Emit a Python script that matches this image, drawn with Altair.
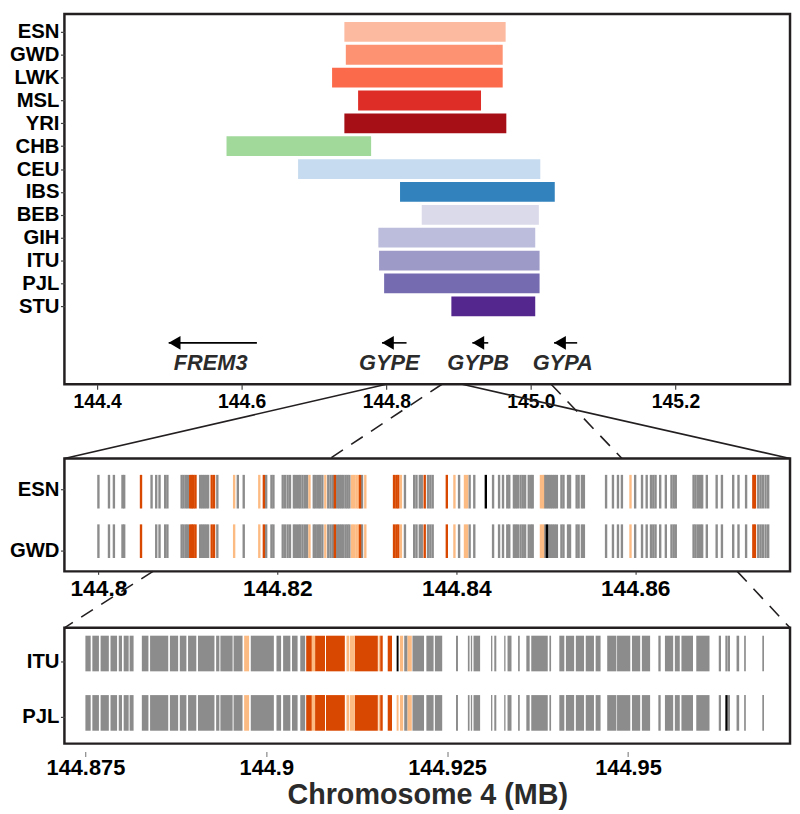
import altair as alt
import pandas as pd

# ---------------- data ----------------
POPS = ["ESN", "GWD", "LWK", "MSL", "YRI", "CHB", "CEU", "IBS", "BEB", "GIH", "ITU", "PJL", "STU"]
POP_START = [144.742, 144.744, 144.725, 144.761, 144.742, 144.579, 144.678, 144.819, 144.849, 144.789, 144.790, 144.797, 144.890]
POP_END = [144.965, 144.961, 144.961, 144.931, 144.966, 144.779, 145.013, 145.033, 145.011, 145.006, 145.012, 145.012, 145.006]
POP_COLORS = ["#fcbba1", "#fc9272", "#fb6a4a", "#de2d26", "#a50f15", "#a1d99b", "#c6dbef",
              "#3182bd", "#dadaeb", "#bcbddc", "#9e9ac8", "#756bb1", "#54278f"]

GENES = ["FREM3", "GYPE", "GYPB", "GYPA"]
GENE_TIP = [144.499, 144.794, 144.919, 145.032]
GENE_TAIL = [144.621, 144.828, 144.941, 145.064]
GENE_LABEL_X = [144.557, 144.804, 144.927, 145.044]

TOP_TICKS = [144.4, 144.6, 144.8, 145.0, 145.2]
MID_TICKS = [144.80, 144.82, 144.84, 144.86]
BOT_TICKS = [144.875, 144.900, 144.925, 144.950]

TOP_DOMAIN = [144.3548, 145.3584]
MID_DOMAIN = [144.7962, 144.8773]
BOT_DOMAIN = [144.8721, 144.9724]

MID_ROWS = ["ESN", "GWD"]
BOT_ROWS = ["ITU", "PJL"]

# variant positions in the 144.80-144.875 Mb window (ESN / GWD)
MID_POS = [
    144.80000, 144.80118, 144.80173, 144.80269, 144.80288, 144.80476, 144.80594, 144.80646, 144.80683, 144.80746,
    144.80771, 144.80930, 144.80952, 144.80978, 144.81000, 144.81026, 144.81045, 144.81063, 144.81085, 144.81137,
    144.81159, 144.81181, 144.81203, 144.81226, 144.81266, 144.81292, 144.81329, 144.81517, 144.81558, 144.81624,
    144.81798, 144.81849, 144.81875, 144.81934, 144.81956, 144.82060, 144.82086, 144.82115, 144.82141, 144.82185,
    144.82207, 144.82233, 144.82255, 144.82281, 144.82307, 144.82333, 144.82359, 144.82407, 144.82429, 144.82455,
    144.82477, 144.82503, 144.82536, 144.82569, 144.82595, 144.82621, 144.82643, 144.82669, 144.82691, 144.82713,
    144.82735, 144.82761, 144.82783, 144.82805, 144.82835, 144.82857, 144.82883, 144.82905, 144.82924, 144.82946,
    144.82983, 144.83304, 144.83330, 144.83352, 144.83381, 144.83426, 144.83529, 144.83555, 144.83592, 144.83614,
    144.83647, 144.83684, 144.83710, 144.83736, 144.83894, 144.83979, 144.84031, 144.84097, 144.84120, 144.84149,
    144.84201, 144.84330, 144.84411, 144.84478, 144.84522, 144.84570, 144.84592, 144.84644, 144.84666, 144.84688,
    144.84718, 144.84743, 144.84769, 144.84810, 144.84836, 144.84854, 144.84946, 144.84969, 144.84991, 144.85013,
    144.85035, 144.85057, 144.85079, 144.85101, 144.85124, 144.85175, 144.85198, 144.85249, 144.85271, 144.85345,
    144.85367, 144.85404, 144.85426, 144.85674, 144.85751, 144.85807, 144.85851, 144.85947, 144.85999, 144.86076,
    144.86128, 144.86176, 144.86202, 144.86227, 144.86279, 144.86342, 144.86405, 144.86430, 144.86453, 144.86652,
    144.86674, 144.86700, 144.86726, 144.86748, 144.86800, 144.86910, 144.86969, 144.87095, 144.87154, 144.87239,
    144.87320, 144.87338, 144.87375, 144.87401, 144.87427, 144.87457, 144.87486,
]
# g = gray, o = dark orange, p = light orange, k = black, - = absent
ESN_CODE = "".join([
    "gggggogggg", "gggggoooog", "ggggoogpgg", "pogggggggg", "ggggggpggg",
    "ggpgggoggg", "ggggppppog", "pooopggggg", "ogggopgppg", "gkgggggggg",
    "ggggggppgg", "gggggggggg", "gggggggpgg", "gggggggggg", "gggggggggg", "ooggggg",
])
GWD_CODE = "".join([
    "gggggo-ggg", "gggggoooog", "ggggoogp-g", "pogggggggg", "ggggggpggg",
    "ggpgggoggg", "ggggppppog", "pooopggggg", "ogggopgppg", "g-gggggggg",
    "ggggggppgk", "gggggggggg", "gggggggpgg", "gggggggggg", "gggggggggg", "ooggggg",
])

# variant blocks in the 144.875-144.97 Mb window (ITU / PJL)
BOT_START = [
    144.87500, 144.87596, 144.87710, 144.87847, 144.87961, 144.88029, 144.88111, 144.88280, 144.88394, 144.88668,
    144.88805, 144.88919, 144.89056, 144.89307, 144.89366, 144.89548, 144.89694, 144.89786, 144.90141, 144.90233,
    144.90356, 144.90470, 144.90552, 144.90630, 144.90675, 144.90826, 144.91109, 144.91154, 144.91223, 144.91551,
    144.91574, 144.91679, 144.91802, 144.91848, 144.91907, 144.91953, 144.92021, 144.92213, 144.92331, 144.92623,
    144.92787, 144.92828, 144.92865, 144.93107, 144.93152, 144.93289, 144.93335, 144.93481, 144.93595, 144.93663,
    144.93914, 144.94051, 144.94142, 144.94279, 144.94416, 144.94553, 144.94713, 144.94849, 144.95055, 144.95192,
    144.95420, 144.95511, 144.95648, 144.95739, 144.95944, 144.96255, 144.96346, 144.96382, 144.96501, 144.96606,
    144.96857,
]
BOT_END = [
    144.87573, 144.87687, 144.87824, 144.87938, 144.88006, 144.88098, 144.88166, 144.88371, 144.88645, 144.88782,
    144.88896, 144.89033, 144.89284, 144.89352, 144.89535, 144.89672, 144.89763, 144.90105, 144.90205, 144.90333,
    144.90433, 144.90538, 144.90630, 144.90675, 144.90812, 144.91086, 144.91145, 144.91223, 144.91542, 144.91574,
    144.91610, 144.91738, 144.91829, 144.91893, 144.91953, 144.92012, 144.92181, 144.92313, 144.92432, 144.92650,
    144.92810, 144.92846, 144.92956, 144.93125, 144.93180, 144.93307, 144.93390, 144.93504, 144.93641, 144.93891,
    144.93937, 144.94120, 144.94256, 144.94393, 144.94530, 144.94621, 144.94840, 144.95032, 144.95169, 144.95306,
    144.95452, 144.95625, 144.95716, 144.95899, 144.96127, 144.96286, 144.96378, 144.96410, 144.96537, 144.96629,
    144.96880,
]
ITU_CODE = "g" * 16 + "p" + "ggggg" + "opoopp" + "opoo" + "k" + "p" + "g" + "p" + "g" * 35
PJL_CODE = "g" * 16 + "p" + "ggggg" + "opoopp" + "opoo" + "p" + "p" + "g" + "p" + "g" * 30 + "k" + "g" * 4

CODE_COLORS = {"g": "#8c8c8c", "o": "#d94801", "p": "#fdbb84", "k": "#000000"}

# zoom connector lines (x positions on the scale of the panel above)
TOP_LINK_FROM = [144.800, 144.905, 144.877, 145.028]
TOP_LINK_TO = [144.3548, 145.3584, 144.722, 145.126]
TOP_LINK_DASHED = [False, False, True, True]
MID_LINK_FROM = [144.8061, 144.8714]
MID_LINK_TO = [144.7962, 144.8773]

assert len(ESN_CODE) == len(MID_POS) == len(GWD_CODE)
assert len(ITU_CODE) == len(BOT_START) == len(BOT_END) == len(PJL_CODE)

# ---------------- style ----------------
FONT = "Liberation Sans"
W = 733
FRAME = "#231f20"

def qscale(domain, reverse=False):
    if reverse:
        return alt.Scale(domain=domain, nice=False, zero=False, reverse=True)
    return alt.Scale(domain=domain, nice=False, zero=False)

def yaxis(values, expr):
    return alt.Axis(values=values, labelExpr=expr, title=None, labelFontSize=20.5, tickSize=4,
                    labelPadding=1.5, labelOverlap=False, labelBound=False, labelFlush=False)

# ---------------- top panel ----------------
top_df = pd.DataFrame({"pop": POPS, "start": POP_START, "end": POP_END, "color": POP_COLORS})
top_df["row"] = range(len(POPS))
top_df["y0"] = top_df["row"] - 0.433
top_df["y1"] = top_df["row"] + 0.433

TOP_Y = qscale([-0.779, 15.411], reverse=True)
TOP_X = qscale(TOP_DOMAIN)
pop_expr = "[" + ",".join("'%s'" % p for p in POPS) + "][datum.value]"
TOP_XAXIS = alt.Axis(values=TOP_TICKS, labelExpr="format(datum.value, '.1f')", title=None,
                     labelFontSize=19.5, tickSize=5, labelPadding=3, labelOverlap=False)
TOP_YAXIS = yaxis(list(range(len(POPS))), pop_expr)

bars = alt.Chart(top_df).mark_bar().encode(
    x=alt.X("start:Q", scale=TOP_X, axis=TOP_XAXIS),
    x2="end:Q",
    y=alt.Y("y0:Q", scale=TOP_Y, axis=TOP_YAXIS),
    y2="y1:Q",
    color=alt.Color("color:N", scale=None),
)

gene_df = pd.DataFrame({"gene": GENES, "tip": GENE_TIP, "tail": GENE_TAIL, "lx": GENE_LABEL_X})
shafts = alt.Chart(gene_df).mark_rule(color="black", strokeWidth=1.6).encode(
    x=alt.X("tail:Q", scale=TOP_X, axis=TOP_XAXIS), x2="tip:Q",
    y=alt.YDatum(13.6, scale=TOP_Y, axis=TOP_YAXIS)
)
heads = alt.Chart(gene_df).mark_point(shape="triangle-left", filled=True, size=190, color="black",
                                      opacity=1, xOffset=6).encode(
    x=alt.X("tip:Q", scale=TOP_X, axis=TOP_XAXIS), y=alt.YDatum(13.6, scale=TOP_Y, axis=TOP_YAXIS)
)
gene_text = alt.Chart(gene_df).mark_text(font=FONT, fontStyle="italic", fontWeight="bold",
                                         fontSize=22, color="#2b2b2b").encode(
    x=alt.X("lx:Q", scale=TOP_X, axis=TOP_XAXIS), y=alt.YDatum(14.5, scale=TOP_Y, axis=TOP_YAXIS),
    text="gene:N"
)
top = alt.layer(bars, shafts, heads, gene_text).properties(width=W, height=374)

# ---------------- connectors top -> middle ----------------
link_df = pd.DataFrame({"a": TOP_LINK_FROM, "b": TOP_LINK_TO, "dashed": TOP_LINK_DASHED})
LINK_Y = alt.Scale(domain=[0, 1], nice=False, zero=False)

def links(df, domain, dashed):
    kw = dict(color=FRAME, strokeWidth=1.6)
    if dashed:
        kw["strokeDash"] = [14, 10]
    return alt.Chart(df).mark_rule(**kw).encode(
        x=alt.X("a:Q", scale=qscale(domain), axis=None), x2="b:Q",
        y=alt.YDatum(1, scale=LINK_Y, axis=None), y2=alt.datum(0),
    )

spacer1 = alt.layer(
    links(link_df[~link_df["dashed"]], TOP_DOMAIN, False),
    links(link_df[link_df["dashed"]], TOP_DOMAIN, True),
).properties(width=W, height=75, view=alt.ViewBackground(strokeOpacity=0, fillOpacity=0))

# ---------------- middle panel ----------------
mid_rec = []
for r, codes in enumerate([ESN_CODE, GWD_CODE]):
    for pos, c in zip(MID_POS, codes):
        if c in CODE_COLORS:
            mid_rec.append({"pos": pos, "row": r, "code": c, "color": CODE_COLORS[c],
                            "order": 0 if c == "g" else 1})
mid_df = pd.DataFrame(mid_rec).sort_values("order")
mid_df["y0"] = mid_df["row"] - 0.34
mid_df["y1"] = mid_df["row"] + 0.34

mid = alt.Chart(mid_df).mark_rule(strokeWidth=2.4).encode(
    x=alt.X("pos:Q", scale=qscale(MID_DOMAIN),
            axis=alt.Axis(values=MID_TICKS, labelExpr="format(datum.value, '.2~f')", title=None,
                          labelFontSize=23, tickSize=3, labelPadding=3, labelOverlap=False)),
    y=alt.Y("y0:Q", scale=qscale([-0.67, 1.61], reverse=True),
            axis=yaxis([-0.04, 1.18], "datum.value < 0.5 ? 'ESN' : 'GWD'")),
    y2="y1:Q",
    color=alt.Color("color:N", scale=None),
).properties(width=W, height=114)

# ---------------- connectors middle -> bottom ----------------
mlink_df = pd.DataFrame({"a": MID_LINK_FROM, "b": MID_LINK_TO})
spacer2 = links(mlink_df, MID_DOMAIN, True).properties(
    width=W, height=57, view=alt.ViewBackground(strokeOpacity=0, fillOpacity=0))

# ---------------- bottom panel ----------------
bot_rec = []
for r, codes in enumerate([ITU_CODE, PJL_CODE]):
    for s, e, c in zip(BOT_START, BOT_END, codes):
        bot_rec.append({"s": s, "e": e, "row": r, "color": CODE_COLORS[c],
                        "order": 0 if c == "g" else 1})
bot_df = pd.DataFrame(bot_rec).sort_values("order")
bot_df["y0"] = bot_df["row"] - 0.3
bot_df["y1"] = bot_df["row"] + 0.3

bot = alt.Chart(bot_df).mark_rect().encode(
    x=alt.X("s:Q", scale=qscale(BOT_DOMAIN),
            axis=alt.Axis(values=BOT_TICKS, labelExpr="format(datum.value, '.3~f')",
                          title="Chromosome 4 (MB)", titleFontSize=29, titleFont=FONT,
                          titleFontWeight="bold", titleColor="#2b2b2b", titlePadding=3,
                          labelFontSize=22, tickSize=5, labelPadding=1, offset=8,
                          tickColor="#888888", labelOverlap=False)),
    x2="e:Q",
    y=alt.Y("y0:Q", scale=qscale([-0.433, 1.517], reverse=True),
            axis=yaxis([0.133, 1.067], "datum.value < 0.5 ? 'ITU' : 'PJL'")),
    y2="y1:Q",
    color=alt.Color("color:N", scale=None),
).properties(width=W, height=117)

chart = alt.vconcat(top, spacer1, mid, spacer2, bot, spacing=0, bounds="flush").properties(
    padding={"left": 0, "top": 0, "right": 0, "bottom": 0}
).configure_view(
    stroke=FRAME, strokeWidth=2.5
).configure_axis(
    labelFont=FONT, labelFontWeight="bold", labelColor="black", domain=False, grid=False,
    tickColor="#444444", tickWidth=1.2
)

chart.save("out.html", embed_options={"renderer": "svg", "actions": False})
